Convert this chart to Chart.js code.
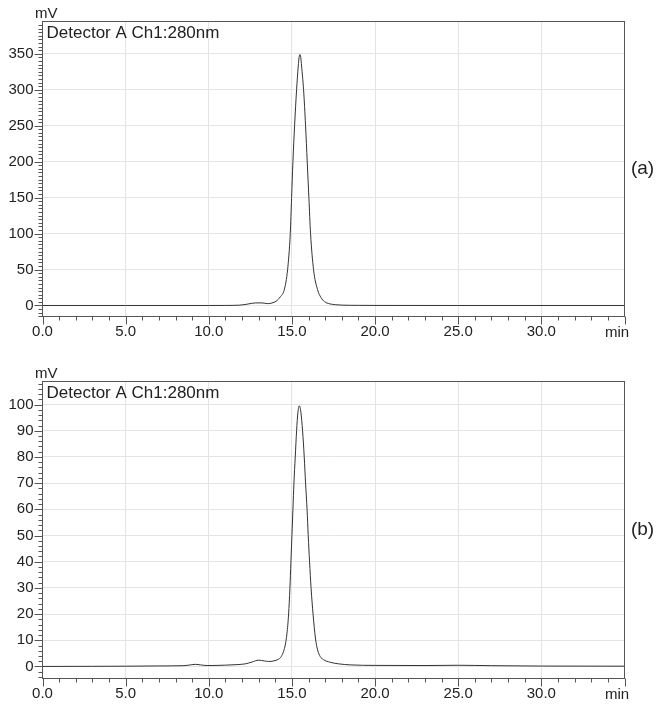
<!DOCTYPE html>
<html>
<head>
<meta charset="utf-8">
<script src="https://cdn.jsdelivr.net/npm/chart.js"></script>
<style>
  body { margin: 0; background: #fff; }
  #wrap { position: relative; width: 662px; height: 708px; }
  canvas { position: absolute; left: 0; }
</style>
</head>
<body>
<div id="wrap">
  <canvas id="chartA" width="662" height="352" style="top:0px"></canvas>
  <canvas id="chartB" width="662" height="356" style="top:352px"></canvas>
</div>
<script>
// retention time (min) and detector signal (mV)
const timesA = [0, 5, 10, 11, 11.8, 12.3, 12.8, 13.2, 13.55, 13.8, 14.05, 14.3, 14.54, 14.74, 14.9, 14.98, 15.06, 15.16, 15.28, 15.38, 15.43, 15.48, 15.53, 15.58, 15.7, 15.82, 15.92, 16.02, 16.12, 16.3, 16.54, 16.75, 16.95, 17.26, 17.6, 18, 19, 20, 25, 35];
const valuesA = [0, 0, 0, 0.1, 0.4, 1.8, 3.6, 3.6, 2.6, 3.5, 6, 12, 22, 50, 100, 150, 200, 250, 300, 333, 345, 349, 345, 333, 300, 250, 200, 150, 100, 50, 22, 11, 5.5, 2.4, 1.1, 0.5, 0.2, 0.1, 0, 0];

const timesB = [0, 3, 5, 7, 8.5, 8.9, 9.2, 9.5, 9.9, 10.5, 11, 11.7, 12.2, 12.6, 13, 13.35, 13.6, 13.9, 14.2, 14.35, 14.5, 14.6, 14.7, 14.8, 14.88, 14.94, 15, 15.06, 15.12, 15.2, 15.28, 15.36, 15.44, 15.54, 15.64, 15.74, 15.82, 15.91, 15.98, 16.06, 16.15, 16.27, 16.42, 16.55, 16.7, 16.9, 17.3, 17.8, 18.5, 20, 23, 25, 27, 30, 35];
const valuesB = [0, 0.05, 0.1, 0.2, 0.3, 0.6, 0.8, 0.6, 0.35, 0.4, 0.5, 0.7, 1.0, 1.7, 2.4, 2.1, 1.9, 2.1, 2.8, 3.7, 5.8, 8.2, 12.5, 20, 30, 40, 50, 60, 70, 80, 90, 97, 99.5, 97, 90, 80, 70, 60, 50, 40, 30, 20, 10.5, 6.2, 3.8, 2.6, 1.6, 1.0, 0.6, 0.4, 0.35, 0.45, 0.3, 0.15, 0.1];

const xTickLabels = ['0.0', '5.0', '10.0', '15.0', '20.0', '25.0', '30.0'];
const yTickLabelsA = ['0', '50', '100', '150', '200', '250', '300', '350'];
const yTickLabelsB = ['0', '10', '20', '30', '40', '50', '60', '70', '80', '90', '100'];

const FONT = '"Liberation Sans", Arial, Helvetica, sans-serif';
const INK = '#222';
const FRAME = '#555';
const GRID = '#e4e4e4';

function range(from, to, step) {
  const out = [];
  for (let v = from; v <= to + 1e-9; v += step) out.push({ value: Math.round(v * 100) / 100 });
  return out;
}

// frame, tick marks and the text that sits around the plot
const chromFrame = {
  id: 'chromFrame',
  afterDraw(chart, args, opts) {
    const { ctx, chartArea: a, scales } = chart;
    ctx.save();
    ctx.strokeStyle = FRAME;
    ctx.lineWidth = 1;
    ctx.strokeRect(a.left, a.top, a.right - a.left, a.bottom - a.top);

    ctx.beginPath();
    for (const t of scales.x.ticks) {
      const px = Math.round(scales.x.getPixelForValue(t.value)) + 0.5;
      const len = t.value % 5 === 0 ? 8 : 4;
      ctx.moveTo(px, a.bottom);
      ctx.lineTo(px, a.bottom + len);
    }
    for (const t of scales.y.ticks) {
      const py = Math.round(scales.y.getPixelForValue(t.value)) + 0.5;
      const len = t.value % opts.yMajor === 0 ? 8 : 4;
      ctx.moveTo(a.left, py);
      ctx.lineTo(a.left - len, py);
    }
    ctx.stroke();

    ctx.fillStyle = INK;
    ctx.textBaseline = 'alphabetic';
    ctx.textAlign = 'left';
    ctx.font = '15px ' + FONT;
    ctx.fillText('mV', 35, a.top - 3.5);
    ctx.textAlign = 'center';
    ctx.fillText('min', 617, a.bottom + 20);

    ctx.textAlign = 'left';
    ctx.font = '17px ' + FONT;
    ctx.fillText(opts.title, 46.5, a.top + 16);

    ctx.textAlign = 'center';
    ctx.textBaseline = 'middle';
    ctx.font = '19px ' + FONT;
    ctx.fillText(opts.tag, 642.5, (a.top + a.bottom) / 2);
    ctx.restore();
  }
};

function makeChart(id, times, values, cfg) {
  return new Chart(document.getElementById(id), {
    type: 'line',
    data: {
      datasets: [{
        data: times.map((t, i) => ({ x: t, y: values[i] })),
        borderColor: '#333',
        borderWidth: 1,
        pointRadius: 0,
        cubicInterpolationMode: 'monotone',
        fill: false
      }]
    },
    options: {
      responsive: false,
      animation: false,
      layout: { padding: { top: cfg.padTop, right: 37.5, bottom: 0, left: 0 } },
      plugins: {
        legend: { display: false },
        tooltip: { enabled: false },
        chromFrame: { title: 'Detector A Ch1:280nm', tag: cfg.tag, yMajor: cfg.yMajor }
      },
      scales: {
        x: {
          type: 'linear',
          min: 0,
          max: 35,
          afterBuildTicks: (s) => { s.ticks = range(0, 35, 1); },
          afterFit: (s) => { s.height = cfg.xHeight; },
          border: { display: false },
          grid: {
            drawTicks: false,
            color: (c) => {
              const v = c.tick ? c.tick.value : -1;
              return v % 5 === 0 && v > 0 && v < 35 ? GRID : 'rgba(0,0,0,0)';
            }
          },
          ticks: {
            autoSkip: false,
            maxRotation: 0,
            padding: 6,
            color: INK,
            font: { family: FONT, size: 15 },
            callback: (v) => (v % 5 === 0 && v < 35 ? xTickLabels[v / 5] : '')
          }
        },
        y: {
          type: 'linear',
          min: cfg.yMin,
          max: cfg.yMax,
          afterBuildTicks: (s) => { s.ticks = range(cfg.yFirst, cfg.yLast, cfg.yMinor); },
          afterFit: (s) => { s.width = 42.5; },
          border: { display: false },
          grid: {
            drawTicks: false,
            color: (c) => {
              const v = c.tick ? c.tick.value : -1;
              return v % cfg.yMajor === 0 && v >= 0 ? GRID : 'rgba(0,0,0,0)';
            }
          },
          ticks: {
            autoSkip: false,
            padding: 9,
            color: INK,
            font: { family: FONT, size: 15 },
            callback: (v) => (v % cfg.yMajor === 0 && v >= 0 ? cfg.labels[v / cfg.yMajor] : '')
          }
        }
      }
    },
    plugins: [chromFrame]
  });
}

makeChart('chartA', timesA, valuesA, {
  tag: '(a)', padTop: 21.5, xHeight: 35.5,
  yMin: -15.3, yMax: 394.9, yFirst: -15, yLast: 390, yMinor: 5, yMajor: 50, labels: yTickLabelsA
});

makeChart('chartB', timesB, valuesB, {
  tag: '(b)', padTop: 29.5, xHeight: 29.5,
  yMin: -4.6, yMax: 108.8, yFirst: -4, yLast: 108, yMinor: 2, yMajor: 10, labels: yTickLabelsB
});
</script>
</body>
</html>
